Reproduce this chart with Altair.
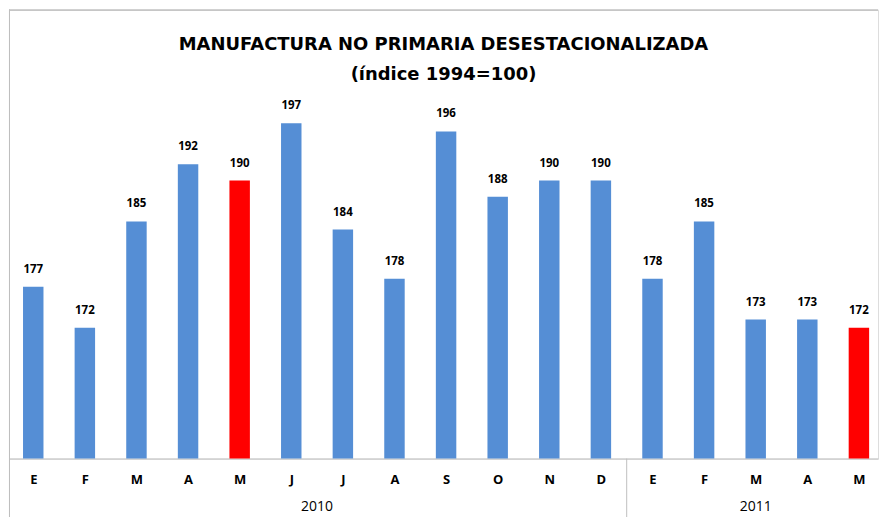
import json
import altair as alt
import pandas as pd

months = ["E", "F", "M", "A", "M", "J", "J", "A", "S", "O", "N", "D", "E", "F", "M", "A", "M"]
years = ["2010"] * 12 + ["2011"] * 5
values = [177, 172, 185, 192, 190, 197, 184, 178, 196, 188, 190, 190, 178, 185, 173, 173, 172]
highlight = [0, 0, 0, 0, 1, 0, 0, 0, 0, 0, 0, 0, 0, 0, 0, 0, 1]

Y_MIN, Y_MAX = 156, 210.9
X_MIN, X_MAX = -0.47, 16.37
W, H = 871, 450
FONT = "Open Sans"
TITLE_FONT = "DejaVu Sans"
GRID = "#BFBFBF"

df = pd.DataFrame({
    "idx": list(range(len(values))),
    "month": months,
    "year": years,
    "value": values,
    "hl": highlight,
})
df["base"] = Y_MIN

yr = df.groupby("year", sort=False)["idx"].agg(["mean", "min", "max"]).reset_index()
yr_labels = yr.rename(columns={"mean": "mid"})
seps = pd.DataFrame({"pos": [m + 0.5 for m in yr["max"].iloc[:-1]]})

xscale = alt.Scale(domain=[X_MIN, X_MAX], nice=False, zero=False, padding=0)
yscale = alt.Scale(domain=[Y_MIN, Y_MAX], nice=False, zero=False, padding=0)

label_expr = json.dumps(months) + "[datum.value]"

base = alt.Chart(df)

bars = base.mark_bar(size=20.5).encode(
    x=alt.X("idx:Q", scale=xscale,
            axis=alt.Axis(values=list(range(len(values))), labelExpr=label_expr,
                          ticks=False, domain=True, domainColor=GRID, grid=False, title=None,
                          labelFont=FONT, labelFontWeight="bold", labelFontSize=13,
                          labelColor="#000000", labelPadding=15)),
    y=alt.Y("value:Q", scale=yscale, axis=None),
    y2=alt.Y2("base:Q"),
    color=alt.condition(alt.datum.hl == 1, alt.value("#FF0000"), alt.value("#558ED5")),
)

labels = base.mark_text(dy=-17, baseline="middle", font=FONT, fontWeight="bold",
                        fontSize=11.5, color="#000000").encode(
    x=alt.X("idx:Q", scale=xscale),
    y=alt.Y("value:Q", scale=yscale),
    text=alt.Text("value:Q", format="d"),
)

year_text = alt.Chart(yr_labels).mark_text(baseline="middle", font=FONT, fontSize=14,
                                           color="#000000").encode(
    x=alt.X("mid:Q", scale=xscale),
    y=alt.value(H + 49),
    text="year:N",
)

sep_rules = alt.Chart(seps).mark_rule(color=GRID, strokeWidth=1).encode(
    x=alt.X("pos:Q", scale=xscale),
    y=alt.value(H),
    y2=alt.value(H + 70),
)

# chart frame (top and left edges)
frame_top = alt.Chart(yr_labels).mark_rule(color=GRID, strokeWidth=1).encode(
    x=alt.value(0), x2=alt.value(W), y=alt.value(0.5),
)
frame_left = alt.Chart(yr_labels).mark_rule(color=GRID, strokeWidth=1).encode(
    x=alt.value(0.5), y=alt.value(0), y2=alt.value(H + 70),
)

chart = alt.layer(frame_top, frame_left, bars, labels, sep_rules, year_text).properties(
    width=W,
    height=H,
    padding=0,
    title=alt.TitleParams(
        text=["MANUFACTURA NO PRIMARIA DESESTACIONALIZADA", "(índice 1994=100)"],
        font=TITLE_FONT, fontSize=18, fontWeight="bold", color="#000000",
        anchor="middle", lineHeight=30, offset=-75,
    ),
).configure_view(stroke=None).configure(background="white")

chart.save("out.html", embed_options={"renderer": "svg", "actions": False})
